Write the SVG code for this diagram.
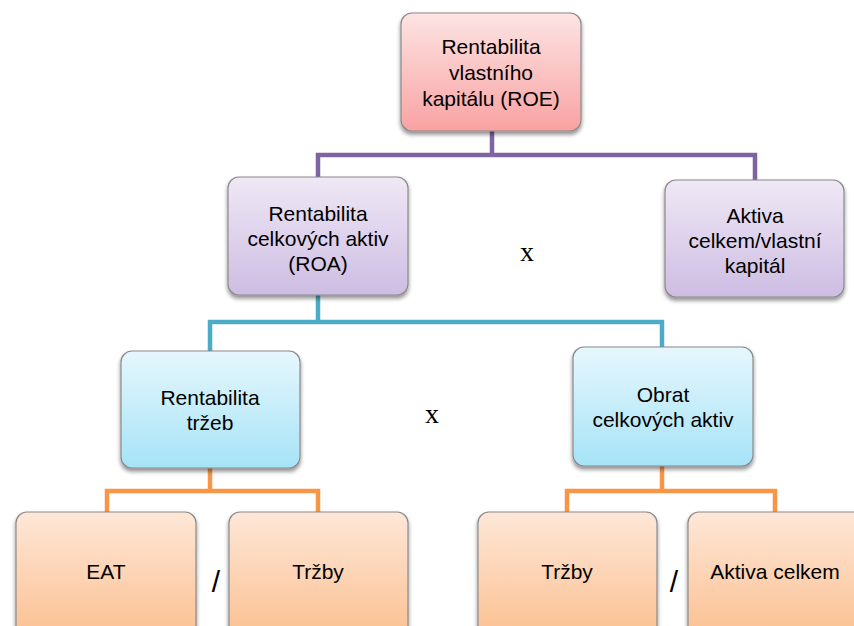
<svg xmlns="http://www.w3.org/2000/svg" width="854" height="626" viewBox="0 0 854 626">
<defs>
<linearGradient id="gRed" x1="0" y1="0" x2="0" y2="1"><stop offset="0" stop-color="#fde4e4"/><stop offset="1" stop-color="#f9a2a2"/></linearGradient>
<linearGradient id="gPur" x1="0" y1="0" x2="0" y2="1"><stop offset="0" stop-color="#efe8f5"/><stop offset="1" stop-color="#cdbde3"/></linearGradient>
<linearGradient id="gCyan" x1="0" y1="0" x2="0" y2="1"><stop offset="0" stop-color="#e6f7fd"/><stop offset="1" stop-color="#a6e3f7"/></linearGradient>
<linearGradient id="gOr" x1="0" y1="0" x2="0" y2="1"><stop offset="0" stop-color="#fee7d8"/><stop offset="1" stop-color="#fbbf8e"/></linearGradient>
<filter id="sh" x="-10%" y="-10%" width="120%" height="130%"><feGaussianBlur in="SourceAlpha" stdDeviation="2"/><feOffset dy="2.5" result="b"/><feComponentTransfer><feFuncA type="linear" slope="0.45"/></feComponentTransfer><feMerge><feMergeNode/><feMergeNode in="SourceGraphic"/></feMerge></filter>
</defs>
<style>
.box{stroke:#8a8a8a;stroke-width:1.2;filter:url(#sh)}
.t{font-family:"Liberation Sans",Arial,sans-serif;font-size:21px;fill:#000;text-anchor:middle}
.x{font-family:"Liberation Serif","Times New Roman",serif;font-size:28px;fill:#000;text-anchor:middle}
.s{font-family:"Liberation Sans",Arial,sans-serif;font-size:30px;fill:#000;text-anchor:middle}
.c{fill:none;stroke-width:4.5;stroke-linejoin:miter}
</style>
<rect width="854" height="626" fill="#fff"/>
<g id="connectors">
<path class="c" stroke="#8064a2" d="M492 131V155M318 178V155H755V180"/>
<path class="c" stroke="#4bacc6" d="M318 295V322M210 351V322H662V347"/>
<path class="c" stroke="#f79646" d="M210 468V491M107 512V491H318V512"/>
<path class="c" stroke="#f79646" d="M662 466V491M567 512V491H775V512"/>
</g>
<g id="roe"><rect class="box" x="401" y="13" width="180" height="118" rx="11" fill="url(#gRed)"/>
<text class="t" x="491" y="54">Rentabilita</text><text class="t" x="491" y="80">vlastního</text><text class="t" x="491" y="106">kapitálu (ROE)</text></g>
<g id="roa"><rect class="box" x="228" y="177" width="180" height="118" rx="11" fill="url(#gPur)"/>
<text class="t" x="318" y="221">Rentabilita</text><text class="t" x="318" y="246">celkových aktiv</text><text class="t" x="318" y="271">(ROA)</text></g>
<g id="aktiva-vk"><rect class="box" x="665" y="180" width="179" height="117" rx="11" fill="url(#gPur)"/>
<text class="t" x="755" y="223">Aktiva</text><text class="t" x="755" y="248">celkem/vlastní</text><text class="t" x="755" y="273">kapitál</text></g>
<g id="rt"><rect class="box" x="121" y="351" width="179" height="117" rx="11" fill="url(#gCyan)"/>
<text class="t" x="210" y="405">Rentabilita</text><text class="t" x="210" y="430">tržeb</text></g>
<g id="obrat"><rect class="box" x="573" y="347" width="180" height="119" rx="11" fill="url(#gCyan)"/>
<text class="t" x="663" y="402">Obrat</text><text class="t" x="663" y="427">celkových aktiv</text></g>
<g id="eat"><rect class="box" x="16" y="512" width="180" height="130" rx="11" fill="url(#gOr)"/>
<text class="t" x="106" y="579">EAT</text></g>
<g id="trzby1"><rect class="box" x="229" y="512" width="179" height="130" rx="11" fill="url(#gOr)"/>
<text class="t" x="318" y="579">Tržby</text></g>
<g id="trzby2"><rect class="box" x="478" y="512" width="179" height="130" rx="11" fill="url(#gOr)"/>
<text class="t" x="567" y="579">Tržby</text></g>
<g id="aktiva"><rect class="box" x="688" y="512" width="180" height="130" rx="11" fill="url(#gOr)"/>
<text class="t" x="775" y="579">Aktiva celkem</text></g>
<text class="x" x="527" y="261">x</text>
<text class="x" x="432" y="423">x</text>
<text class="s" x="216" y="592">/</text>
<text class="s" x="674" y="592">/</text>
</svg>
